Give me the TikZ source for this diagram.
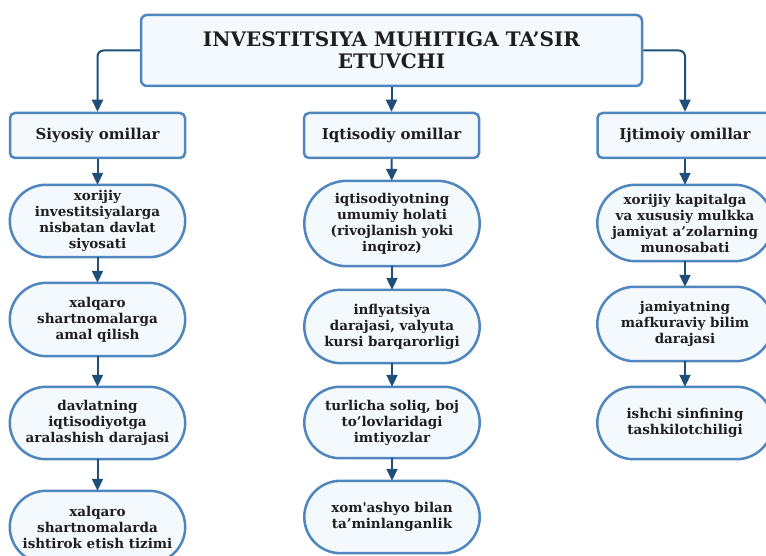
\documentclass[tikz,border=0pt]{standalone}
\usepackage{fontspec}
\setmainfont{DejaVu Serif}
\usetikzlibrary{arrows.meta,backgrounds,calc}
\definecolor{bordc}{HTML}{4F86BE}
\definecolor{fillc}{HTML}{F4F9FE}
\definecolor{arrc}{HTML}{1F4E79}
\definecolor{txtc}{HTML}{1E1E1E}
\tikzset{
 titlebox/.style={draw=bordc, fill=fillc, line width=2.5pt, rounded corners=6pt, minimum width=501pt, minimum height=71pt, align=center, font=\bfseries\fontsize{20}{22}\selectfont, text=txtc},
 catbox/.style={draw=bordc, fill=fillc, line width=2.5pt, rounded corners=5pt, minimum width=175pt, minimum height=45pt, font=\bfseries\fontsize{15}{17}\selectfont, text=txtc},
 stad/.style={minimum width=175pt, align=center, font=\bfseries\fontsize{13.5}{16}\selectfont, text=txtc, inner sep=0pt},
 conn/.style={draw=arrc, line width=2pt, -{Triangle[width=11pt,length=12pt]}},
}
\newcommand\stadshape[1]{%
 \path[draw=bordc, fill=fillc, line width=2.5pt] let \p1=(#1.north east), \p2=(#1.south west), \n1={(\y1-\y2)/2} in
 ({\x2+\n1},\y1) -- ({\x1-\n1},\y1) arc[start angle=90,end angle=-90,radius=\n1] -- ({\x2+\n1},\y2) arc[start angle=270,end angle=90,radius=\n1] -- cycle;}
\begin{document}
\begin{tikzpicture}[x=1pt,y=1pt]
\useasboundingbox (0,0) rectangle (766,-556);
\node[titlebox] (top) at (391.5,-50.5) {INVESTITSIYA MUHITIGA TA’SIR\\ETUVCHI};
\node[catbox] (c1) at (97.5,-135.5) {Siyosiy omillar};
\node[catbox] (c2) at (391.5,-135.5) {Iqtisodiy omillar};
\node[catbox] (c3) at (685,-135.5) {Ijtimoiy omillar};
\node[stad, minimum height=72pt] (a1) at (97.5,-221) {xorijiy\\investitsiyalarga\\nisbatan davlat\\siyosati};
\node[stad, minimum height=73pt] (a2) at (97.5,-319.5) {xalqaro\\shartnomalarga\\amal qilish};
\node[stad, minimum height=72pt] (a3) at (97.5,-423) {davlatning\\iqtisodiyotga\\aralashish darajasi};
\node[stad, minimum height=72pt] (a4) at (97.5,-527) {xalqaro\\shartnomalarda\\ishtirok etish tizimi};
\node[stad, minimum height=85pt] (b1) at (392,-223.5) {iqtisodiyotning\\umumiy holati\\(rivojlanish yoki\\inqiroz)};
\node[stad, minimum height=73pt] (b2) at (392,-326.5) {inflyatsiya\\darajasi, valyuta\\kursi barqarorligi};
\node[stad, minimum height=71pt] (b3) at (392,-422.5) {turlicha soliq, boj\\to’lovlaridagi\\imtiyozlar};
\node[stad, minimum height=72pt] (b4) at (392,-517) {xom\textquotesingle ashyo bilan\\ta’minlanganlik};
\node[stad, minimum height=76pt] (d1) at (685,-223) {xorijiy kapitalga\\va xususiy mulkka\\jamiyat a’zolarning\\munosabati};
\node[stad, minimum height=74pt] (d2) at (685,-324) {jamiyatning\\mafkuraviy bilim\\darajasi};
\node[stad, minimum height=72pt] (d3) at (685,-423) {ishchi sinfining\\tashkilotchiligi};
\begin{scope}[on background layer]
\foreach \nm in {a1,a2,a3,a4,b1,b2,b3,b4,d1,d2,d3} {\stadshape{\nm}}
\end{scope}
\draw[conn, rounded corners=6pt] (top.west) -| (c1.north);
\draw[conn] (top.south -| c2.north) -- (c2.north);
\draw[conn, rounded corners=6pt] (top.east) -| (c3.north);
\draw[conn] (c1) -- (a1);
\draw[conn] (a1) -- (a2);
\draw[conn] (a2) -- (a3);
\draw[conn] (a3) -- (a4);
\draw[conn] (c2) -- (b1);
\draw[conn] (b1) -- (b2);
\draw[conn] (b2) -- (b3);
\draw[conn] (b3) -- (b4);
\draw[conn] (c3) -- (d1);
\draw[conn] (d1) -- (d2);
\draw[conn] (d2) -- (d3);
\end{tikzpicture}
\end{document}
